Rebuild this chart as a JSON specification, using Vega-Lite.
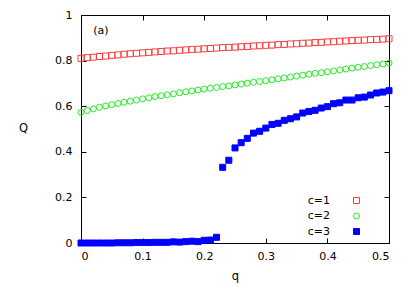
{
  "$schema": "https://vega.github.io/schema/vega-lite/v6.json",
  "width": 308,
  "height": 228,
  "autosize": "none",
  "padding": {"left": 81, "top": 15, "right": 20, "bottom": 43},
  "background": "white",
  "config": {
    "view": {"stroke": "#000", "strokeWidth": 1},
    "font": "DejaVu Sans",
    "axis": {"grid": false, "domain": false, "tickColor": "#000", "tickSize": -5, "tickWidth": 1, "labelColor": "#000", "labelFont": "DejaVu Sans", "labelFontSize": 11, "titleFont": "DejaVu Sans", "titleFontSize": 11.5, "titleFontWeight": "normal", "titleColor": "#000"},
    "legend": {"orient": "none", "legendX": 270, "legendY": 180, "title": null, "labelAlign": "right", "labelOffset": -32, "labelFontSize": 11, "labelFont": "DejaVu Sans", "labelColor": "#000", "symbolSize": 36, "symbolStrokeWidth": 1, "rowPadding": 3.5, "padding": 0}
  },
  "datasets": {
    "pts": [
      {"q":0.00,"Q":0.810,"c":"c=1"},{"q":0.01,"Q":0.813,"c":"c=1"},{"q":0.02,"Q":0.815,"c":"c=1"},{"q":0.03,"Q":0.818,"c":"c=1"},{"q":0.04,"Q":0.820,"c":"c=1"},{"q":0.05,"Q":0.823,"c":"c=1"},{"q":0.06,"Q":0.825,"c":"c=1"},{"q":0.07,"Q":0.828,"c":"c=1"},{"q":0.08,"Q":0.830,"c":"c=1"},{"q":0.09,"Q":0.832,"c":"c=1"},{"q":0.10,"Q":0.834,"c":"c=1"},
      {"q":0.11,"Q":0.836,"c":"c=1"},{"q":0.12,"Q":0.838,"c":"c=1"},{"q":0.13,"Q":0.840,"c":"c=1"},{"q":0.14,"Q":0.842,"c":"c=1"},{"q":0.15,"Q":0.843,"c":"c=1"},{"q":0.16,"Q":0.845,"c":"c=1"},{"q":0.17,"Q":0.847,"c":"c=1"},{"q":0.18,"Q":0.849,"c":"c=1"},{"q":0.19,"Q":0.850,"c":"c=1"},{"q":0.20,"Q":0.852,"c":"c=1"},
      {"q":0.21,"Q":0.853,"c":"c=1"},{"q":0.22,"Q":0.855,"c":"c=1"},{"q":0.23,"Q":0.857,"c":"c=1"},{"q":0.24,"Q":0.858,"c":"c=1"},{"q":0.25,"Q":0.859,"c":"c=1"},{"q":0.26,"Q":0.861,"c":"c=1"},{"q":0.27,"Q":0.862,"c":"c=1"},{"q":0.28,"Q":0.864,"c":"c=1"},{"q":0.29,"Q":0.865,"c":"c=1"},{"q":0.30,"Q":0.867,"c":"c=1"},
      {"q":0.31,"Q":0.868,"c":"c=1"},{"q":0.32,"Q":0.870,"c":"c=1"},{"q":0.33,"Q":0.871,"c":"c=1"},{"q":0.34,"Q":0.873,"c":"c=1"},{"q":0.35,"Q":0.874,"c":"c=1"},{"q":0.36,"Q":0.876,"c":"c=1"},{"q":0.37,"Q":0.877,"c":"c=1"},{"q":0.38,"Q":0.879,"c":"c=1"},{"q":0.39,"Q":0.880,"c":"c=1"},{"q":0.40,"Q":0.882,"c":"c=1"},
      {"q":0.41,"Q":0.883,"c":"c=1"},{"q":0.42,"Q":0.885,"c":"c=1"},{"q":0.43,"Q":0.886,"c":"c=1"},{"q":0.44,"Q":0.888,"c":"c=1"},{"q":0.45,"Q":0.889,"c":"c=1"},{"q":0.46,"Q":0.890,"c":"c=1"},{"q":0.47,"Q":0.892,"c":"c=1"},{"q":0.48,"Q":0.893,"c":"c=1"},{"q":0.49,"Q":0.894,"c":"c=1"},{"q":0.50,"Q":0.896,"c":"c=1"},
      {"q":0.00,"Q":0.573,"c":"c=2"},{"q":0.01,"Q":0.581,"c":"c=2"},{"q":0.02,"Q":0.588,"c":"c=2"},{"q":0.03,"Q":0.595,"c":"c=2"},{"q":0.04,"Q":0.601,"c":"c=2"},{"q":0.05,"Q":0.607,"c":"c=2"},{"q":0.06,"Q":0.612,"c":"c=2"},{"q":0.07,"Q":0.617,"c":"c=2"},{"q":0.08,"Q":0.622,"c":"c=2"},{"q":0.09,"Q":0.627,"c":"c=2"},{"q":0.10,"Q":0.632,"c":"c=2"},
      {"q":0.11,"Q":0.637,"c":"c=2"},{"q":0.12,"Q":0.642,"c":"c=2"},{"q":0.13,"Q":0.646,"c":"c=2"},{"q":0.14,"Q":0.650,"c":"c=2"},{"q":0.15,"Q":0.654,"c":"c=2"},{"q":0.16,"Q":0.659,"c":"c=2"},{"q":0.17,"Q":0.663,"c":"c=2"},{"q":0.18,"Q":0.667,"c":"c=2"},{"q":0.19,"Q":0.671,"c":"c=2"},{"q":0.20,"Q":0.675,"c":"c=2"},
      {"q":0.21,"Q":0.679,"c":"c=2"},{"q":0.22,"Q":0.682,"c":"c=2"},{"q":0.23,"Q":0.686,"c":"c=2"},{"q":0.24,"Q":0.689,"c":"c=2"},{"q":0.25,"Q":0.693,"c":"c=2"},{"q":0.26,"Q":0.697,"c":"c=2"},{"q":0.27,"Q":0.701,"c":"c=2"},{"q":0.28,"Q":0.705,"c":"c=2"},{"q":0.29,"Q":0.708,"c":"c=2"},{"q":0.30,"Q":0.712,"c":"c=2"},
      {"q":0.31,"Q":0.716,"c":"c=2"},{"q":0.32,"Q":0.720,"c":"c=2"},{"q":0.33,"Q":0.724,"c":"c=2"},{"q":0.34,"Q":0.728,"c":"c=2"},{"q":0.35,"Q":0.732,"c":"c=2"},{"q":0.36,"Q":0.736,"c":"c=2"},{"q":0.37,"Q":0.740,"c":"c=2"},{"q":0.38,"Q":0.744,"c":"c=2"},{"q":0.39,"Q":0.747,"c":"c=2"},{"q":0.40,"Q":0.751,"c":"c=2"},
      {"q":0.41,"Q":0.755,"c":"c=2"},{"q":0.42,"Q":0.759,"c":"c=2"},{"q":0.43,"Q":0.763,"c":"c=2"},{"q":0.44,"Q":0.767,"c":"c=2"},{"q":0.45,"Q":0.771,"c":"c=2"},{"q":0.46,"Q":0.774,"c":"c=2"},{"q":0.47,"Q":0.778,"c":"c=2"},{"q":0.48,"Q":0.782,"c":"c=2"},{"q":0.49,"Q":0.785,"c":"c=2"},{"q":0.50,"Q":0.789,"c":"c=2"},
      {"q":0.00,"Q":0.000,"c":"c=3"},{"q":0.01,"Q":0.000,"c":"c=3"},{"q":0.02,"Q":0.000,"c":"c=3"},{"q":0.03,"Q":0.000,"c":"c=3"},{"q":0.04,"Q":0.000,"c":"c=3"},{"q":0.05,"Q":0.000,"c":"c=3"},{"q":0.06,"Q":0.001,"c":"c=3"},{"q":0.07,"Q":0.001,"c":"c=3"},{"q":0.08,"Q":0.001,"c":"c=3"},{"q":0.09,"Q":0.002,"c":"c=3"},{"q":0.10,"Q":0.002,"c":"c=3"},
      {"q":0.11,"Q":0.002,"c":"c=3"},{"q":0.12,"Q":0.003,"c":"c=3"},{"q":0.13,"Q":0.003,"c":"c=3"},{"q":0.14,"Q":0.003,"c":"c=3"},{"q":0.15,"Q":0.005,"c":"c=3"},{"q":0.16,"Q":0.004,"c":"c=3"},{"q":0.17,"Q":0.006,"c":"c=3"},{"q":0.18,"Q":0.008,"c":"c=3"},{"q":0.19,"Q":0.006,"c":"c=3"},{"q":0.20,"Q":0.012,"c":"c=3"},
      {"q":0.21,"Q":0.013,"c":"c=3"},{"q":0.22,"Q":0.025,"c":"c=3"},{"q":0.23,"Q":0.332,"c":"c=3"},{"q":0.24,"Q":0.363,"c":"c=3"},{"q":0.25,"Q":0.417,"c":"c=3"},{"q":0.26,"Q":0.440,"c":"c=3"},{"q":0.27,"Q":0.459,"c":"c=3"},{"q":0.28,"Q":0.482,"c":"c=3"},{"q":0.29,"Q":0.490,"c":"c=3"},{"q":0.30,"Q":0.504,"c":"c=3"},
      {"q":0.31,"Q":0.520,"c":"c=3"},{"q":0.32,"Q":0.525,"c":"c=3"},{"q":0.33,"Q":0.538,"c":"c=3"},{"q":0.34,"Q":0.545,"c":"c=3"},{"q":0.35,"Q":0.553,"c":"c=3"},{"q":0.36,"Q":0.570,"c":"c=3"},{"q":0.37,"Q":0.577,"c":"c=3"},{"q":0.38,"Q":0.582,"c":"c=3"},{"q":0.39,"Q":0.592,"c":"c=3"},{"q":0.40,"Q":0.598,"c":"c=3"},
      {"q":0.41,"Q":0.611,"c":"c=3"},{"q":0.42,"Q":0.615,"c":"c=3"},{"q":0.43,"Q":0.627,"c":"c=3"},{"q":0.44,"Q":0.627,"c":"c=3"},{"q":0.45,"Q":0.637,"c":"c=3"},{"q":0.46,"Q":0.640,"c":"c=3"},{"q":0.47,"Q":0.649,"c":"c=3"},{"q":0.48,"Q":0.658,"c":"c=3"},{"q":0.49,"Q":0.662,"c":"c=3"},{"q":0.50,"Q":0.668,"c":"c=3"}
    ]
  },
  "data": {"name": "pts"},
  "layer": [
    {
      "mark": {"type": "point", "opacity": 0},
      "encoding": {
        "x": {"field": "q", "type": "quantitative", "scale": {"domain": [0, 0.5], "nice": false}, "axis": {"orient": "top", "labels": false, "title": null, "values": [0, 0.1, 0.2, 0.3, 0.4, 0.5]}},
        "y": {"field": "Q", "type": "quantitative", "scale": {"domain": [0, 1], "nice": false}, "axis": {"orient": "right", "labels": false, "title": null, "values": [0, 0.2, 0.4, 0.6, 0.8, 1]}}
      }
    },
    {
      "mark": {"type": "point", "strokeWidth": 1, "opacity": 1, "size": 36},
      "encoding": {
        "x": {"field": "q", "type": "quantitative", "axis": {"orient": "bottom", "values": [0, 0.1, 0.2, 0.3, 0.4, 0.5], "format": "~g", "title": "q", "labelPadding": 12, "titleX": 154, "titleY": 36, "titleAlign": "center", "titleBaseline": "alphabetic"}},
        "y": {"field": "Q", "type": "quantitative", "axis": {"orient": "left", "values": [0, 0.2, 0.4, 0.6, 0.8, 1], "format": "~g", "title": "Q", "labelPadding": 14, "titleAngle": 0, "titleX": -58, "titleY": 113, "titleAlign": "center", "titleBaseline": "middle"}},
        "shape": {"field": "c", "type": "nominal", "scale": {"domain": ["c=1", "c=2", "c=3"], "range": ["square", "circle", "square"]}},
        "stroke": {"field": "c", "type": "nominal", "scale": {"domain": ["c=1", "c=2", "c=3"], "range": ["#ff3a3a", "#22ee22", "#0000ff"]}},
        "fill": {"field": "c", "type": "nominal", "scale": {"domain": ["c=1", "c=2", "c=3"], "range": ["transparent", "transparent", "#0000ff"]}}
      }
    },
    {
      "data": {"values": [{"t": "(a)"}]},
      "mark": {"type": "text", "align": "left", "baseline": "middle", "fontSize": 11, "font": "DejaVu Sans", "color": "#000"},
      "encoding": {
        "x": {"datum": 0.02, "type": "quantitative", "axis": null},
        "y": {"datum": 0.932, "type": "quantitative", "axis": null},
        "text": {"field": "t", "type": "nominal"}
      }
    }
  ],
  "resolve": {"axis": {"x": "independent", "y": "independent"}}
}
